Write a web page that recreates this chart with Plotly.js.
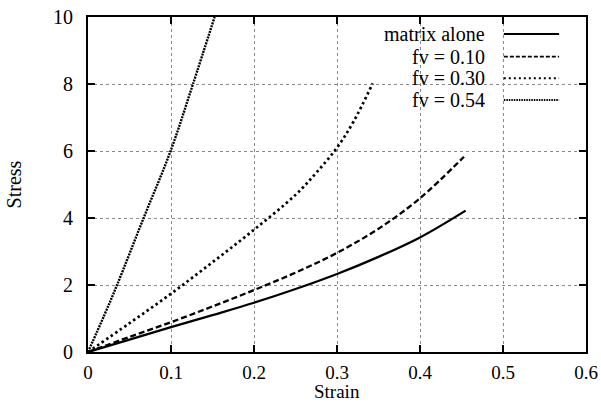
<!DOCTYPE html>
<html>
<head>
<meta charset="utf-8">
<script src="https://cdn.plot.ly/plotly-3.0.1.min.js"></script>
<style>
  html, body { margin: 0; padding: 0; background: #fff; }
  #chart { width: 601px; height: 403px; }
</style>
</head>
<body>
<div id="chart"></div>
<script>
// Stress-strain response of the matrix and the composites at several fibre volume fractions
const seriesNames = ['matrix alone', 'fv = 0.10', 'fv = 0.30', 'fv = 0.54'];

const strainMatrix = [0, 0.05, 0.10, 0.15, 0.20, 0.25, 0.30, 0.35, 0.40, 0.455];
const stressMatrix = [0, 0.37, 0.74, 1.10, 1.47, 1.88, 2.33, 2.84, 3.42, 4.22];

const strainFv10 = [0, 0.05, 0.10, 0.15, 0.20, 0.25, 0.30, 0.35, 0.40, 0.453];
const stressFv10 = [0, 0.45, 0.89, 1.36, 1.85, 2.37, 2.96, 3.68, 4.59, 5.83];

const strainFv30 = [0, 0.05, 0.10, 0.15, 0.20, 0.25, 0.275, 0.30, 0.32, 0.343];
const stressFv30 = [0, 0.86, 1.74, 2.68, 3.65, 4.69, 5.35, 6.10, 6.88, 8.02];

const strainFv54 = [0, 0.020, 0.035, 0.067, 0.0995, 0.1265, 0.1525];
const stressFv54 = [0, 1.12, 2.00, 4.00, 6.00, 8.00, 10.00];

const xTicks = [0, 0.1, 0.2, 0.3, 0.4, 0.5, 0.6];
const yTicks = [0, 2, 4, 6, 8, 10];

// line styles per series: [width, dash]
const styles = [
  [2.3, 'solid'],
  [2.3, '6px,3px'],
  [2.7, '2.5px,3px'],
  [2.4, '2px,1px']
];
// key sample styles (slightly finer)
const keyStyles = [
  [2.0, 'solid'],
  [1.8, '4px,2px'],
  [2.0, '2px,3px'],
  [2.0, '1.5px,1px']
];

const xs = [strainMatrix, strainFv10, strainFv30, strainFv54];
const ys = [stressMatrix, stressFv10, stressFv30, stressFv54];

const traces = seriesNames.map((name, i) => ({
  type: 'scatter',
  mode: 'lines',
  name: name,
  x: xs[i],
  y: ys[i],
  line: { color: '#000', width: styles[i][0], dash: styles[i][1], shape: 'spline', smoothing: 1 },
  cliponaxis: true,
  showlegend: false,
  hoverinfo: 'skip'
}));

const serif = 'Liberation Serif, Times New Roman, serif';

// key: right-aligned labels with line samples to their right, on a white patch
const rowY = [0.949, 0.882, 0.817, 0.752];
const annotations = seriesNames.map((name, i) => ({
  xref: 'paper', yref: 'paper',
  x: 0.801, y: rowY[i],
  xanchor: 'right', yanchor: 'middle',
  text: name, showarrow: false,
  font: { family: serif, size: 20, color: '#000' }
}));

// horizontal axis caption, sitting just under the tick labels
annotations.push({
  xref: 'paper', yref: 'paper',
  x: 0.5, y: -0.152,
  xanchor: 'center', yanchor: 'bottom',
  text: 'Strain', showarrow: false, borderpad: 0,
  font: { family: serif, size: 19, color: '#000' }
});

const shapes = [{
  type: 'rect', xref: 'paper', yref: 'paper',
  x0: 0.494, x1: 1, y0: 0.725, y1: 1,
  fillcolor: '#fff', line: { width: 0 }, layer: 'between'
}].concat(seriesNames.map((name, i) => ({
  type: 'line', xref: 'paper', yref: 'paper',
  x0: 0.835, x1: 0.946, y0: rowY[i], y1: rowY[i],
  line: { color: '#000', width: keyStyles[i][0], dash: keyStyles[i][1] },
  layer: 'above'
})));

const axisCommon = {
  showline: true, linecolor: '#000', linewidth: 2,
  mirror: 'ticks', ticks: 'inside', ticklen: 7, tickwidth: 2, tickcolor: '#000',
  showgrid: true, gridcolor: '#8a8a8a', gridwidth: 1, griddash: 'dot',
  zeroline: false
};

const layout = {
  width: 601, height: 403,
  margin: { l: 88, r: 15, t: 17, b: 51 },
  paper_bgcolor: '#fff', plot_bgcolor: '#fff',
  showlegend: false,
  xaxis: Object.assign({}, axisCommon, {
    range: [0, 0.6], tickvals: xTicks, ticktext: xTicks.map(String),
    tickfont: { family: serif, size: 19, color: '#000' },
    ticklabelstandoff: 2
  }),
  yaxis: Object.assign({}, axisCommon, {
    range: [0, 10], tickvals: yTicks, ticktext: yTicks.map(String),
    tickfont: { family: serif, size: 20, color: '#000' },
    ticklabelstandoff: 9,
    title: { text: 'Stress', standoff: 26, font: { family: serif, size: 20, color: '#000' } }
  }),
  annotations: annotations,
  shapes: shapes
};

Plotly.newPlot('chart', traces, layout, { staticPlot: true, displayModeBar: false });
</script>
</body>
</html>
